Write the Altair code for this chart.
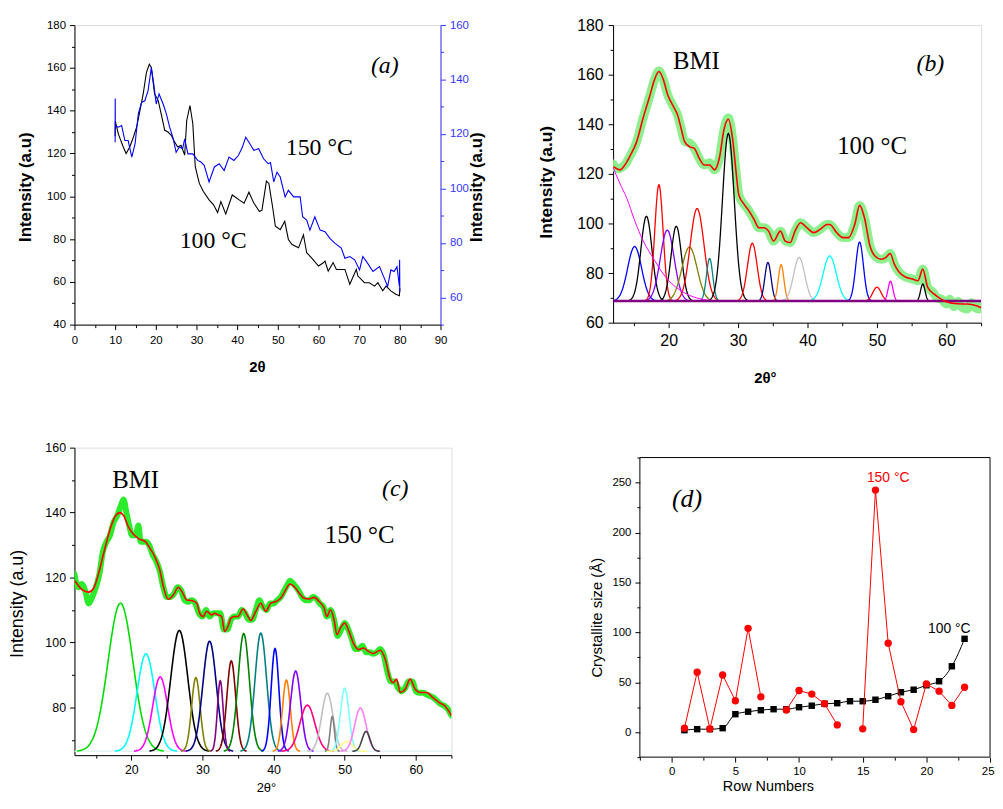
import altair as alt
import numpy as np
import pandas as pd

SANS = "Liberation Sans"
SERIF = "Liberation Serif"

# ---------------- (a) raw patterns ----------------
a_x_100 = [10, 10.05, 10.8, 12, 12.7, 13.6, 14.5, 15.3, 16.1, 16.9, 17.7, 18.4, 18.9, 19.7, 20.6, 21.4, 22.2, 23,
           23.8, 24.6, 25.4, 26.2, 27.1, 27.6, 28.4, 29.1, 29.7, 30.7, 31.7, 33.1, 34.2, 35.2, 36, 37.2, 38.8, 40.5,
           41.7, 42.9, 44.1, 45.5, 46.1, 47.2, 47.8, 48.7, 49.4, 50.6, 51.7, 52.6, 53.5, 55.1, 56.3, 57.1, 58.3, 60,
           61.2, 61.6, 62.4, 63.6, 64.4, 66.5, 67.7, 69.3, 69.7, 71.3, 72.5, 73.8, 74.6, 75.8, 76.6, 77.8, 79, 79.9, 80]
a_y_100 = [128, 135, 129, 123, 120, 123, 127.7, 132.4, 140, 147.8, 157.9, 161.7, 160.2, 147.8, 144.7, 137.8, 130.8,
           130, 128.5, 125.4, 123, 123.8, 119.2, 135.4, 142.4, 133.9, 113.8, 106, 102.2, 98.3, 96, 92.4, 97.5, 91.7,
           100.6, 98.3, 96.8, 101.9, 96.8, 92.9, 93.5, 107.1, 106, 95.2, 86, 84.4, 88.3, 79.8, 77.4, 75.9, 82, 73.6,
           71.2, 67.4, 68.9, 69.7, 65, 69, 65.8, 65.8, 58.9, 65.8, 62.7, 59.6, 59.6, 58, 59.6, 55.8, 58, 55.8, 54.2,
           53.5, 57]
a_x_150 = [10, 10.02, 10.05, 10.8, 11.6, 12.4, 13.2, 14.1, 14.9, 15.7, 16.5, 17.3, 18.1, 18.9, 19.5, 20.1, 20.8,
           21.8, 22.6, 23.4, 24.2, 25, 25.8, 26.6, 27.1, 27.9, 29.1, 30.3, 31.1, 31.9, 33.1, 34.4, 35.6, 36.8, 38,
           39.2, 40.3, 41.3, 42.1, 42.9, 44.1, 45.3, 46.5, 47.6, 48.2, 49, 49.8, 50.6, 51.8, 52.6, 53.9, 55.5, 56.1,
           57.1, 57.9, 59.1, 60.4, 61.6, 62.8, 64, 65.6, 66.5, 67.7, 68.9, 70.1, 70.9, 72.1, 73.4, 75, 76.2, 77, 77.8,
           78.6, 79.3, 79.9, 79.95, 80]
a_y_150 = [117, 133, 123, 122.5, 123.1, 117.6, 117.6, 111.5, 116.4, 127.4, 131.6, 132.2, 135.9, 144.4, 138.3, 131,
           134.7, 131, 127.4, 122.5, 118.8, 113.3, 115.2, 114.6, 118.2, 112.7, 112.7, 110.3, 109.7, 108.5, 102.4,
           107.9, 109.1, 106.6, 111.5, 110.3, 112.1, 115.2, 118.8, 117, 114, 114.6, 110.9, 109.1, 109.5, 102.4, 106,
           104.2, 96.9, 99.3, 96.9, 96.9, 89.6, 88.4, 84.7, 89.6, 84.7, 84.1, 81.7, 79.9, 78.1, 74.4, 75, 73.8, 70.1,
           75, 72.5, 69.5, 71.3, 67, 64, 70.1, 69.5, 71.3, 64, 73.8, 62]

# ---------------- (b) 100 °C deconvolution ----------------
b_x_data = [12, 12.6, 13.2, 13.8, 14.4, 15.4, 16.3, 17.3, 18, 18.6, 19.2, 19.9, 20.6, 21.3, 21.8, 22.3, 23, 23.7,
            24.4, 25.1, 25.9, 26.6, 27.3, 28, 28.6, 29.2, 29.7, 30.1, 30.9, 31.6, 32.3, 33, 33.7, 34.4, 35.1, 36.1,
            36.8, 37.5, 38.2, 39, 39.9, 40.9, 41.8, 42.8, 43.2, 44.2, 45.1, 45.9, 46.8, 47.5, 48.2, 49, 49.7, 50.6,
            51.3, 51.9, 52.5, 53.2, 54.2, 55.1, 55.9, 56.6, 57.3, 58, 58.7, 59.3, 60, 60.5, 61.1, 61.7, 62.3, 63,
            63.6, 64.2, 64.7, 65]
b_y_data = [124, 122, 122.5, 124, 127, 133, 142.3, 151.6, 158.3, 161.5, 158.3, 151.6, 147.6, 143.6, 138.3, 133,
            132.5, 130.3, 126.3, 123.6, 124.5, 121.6, 126.3, 138.3, 142.5, 134.3, 121, 111.6, 107.6, 104.9, 101.6,
            98.3, 98.3, 96.9, 92.9, 96.9, 92.9, 92.3, 96.9, 100.3, 98.3, 96.3, 97.6, 99.6, 99.6, 96.3, 94.3, 94.3,
            99.6, 107.3, 102.3, 90.9, 86.9, 85.6, 86.3, 87.9, 83.6, 80.3, 78.3, 77.6, 76.9, 81.6, 74.3, 72.5, 70,
            69.5, 67.5, 69.5, 66.5, 68.5, 66, 65.5, 68, 66, 65.5, 67]
b_x_fit = [12.05, 13, 13.7, 14.4, 15.4, 16.3, 17.3, 18, 18.6, 19.2, 19.9, 20.6, 21.3, 21.8, 22.3, 23, 23.7, 24.4,
           25.1, 25.9, 26.6, 27.3, 28, 28.6, 29.2, 29.7, 30.1, 30.9, 31.6, 32.3, 33, 33.7, 34.4, 35.1, 36.1, 36.8,
           37.5, 38.2, 39, 39.9, 40.9, 41.8, 42.8, 43.2, 44.2, 45.1, 45.9, 46.8, 47.5, 48.2, 49, 49.7, 50.6, 51.3,
           51.9, 52.5, 53.2, 54.2, 55.1, 55.9, 56.6, 57.3, 58.2, 59.2, 60.1, 61.6, 63, 64.2, 65]
b_y_fit = [122.9, 121.6, 123.6, 127, 133, 142.3, 151.6, 158.3, 161.3, 158.3, 151.6, 147.6, 143.6, 138.3, 133, 131,
           130.3, 126.3, 123.6, 123.6, 121.6, 126.3, 138.3, 142, 134.3, 121, 111.6, 107.6, 104.9, 101.6, 98.3, 98.3,
           96.9, 92.9, 96.9, 92.9, 92.3, 96.9, 100.3, 98.3, 96.3, 97.6, 99.6, 99.6, 96.3, 94.3, 94.3, 99.6, 107.3,
           102.3, 90.9, 86.9, 85.6, 86.3, 87.9, 83.6, 80.3, 78.3, 77.6, 76.9, 81.6, 74.3, 71.6, 69.6, 68.3, 67.6,
           67.5, 66.9, 66]
b_bg_x = [12, 13, 14, 15, 16, 17, 18, 19, 20, 22, 24, 26, 28]
b_bg_y = [122.5, 116, 110, 102, 95, 89.5, 85, 80.5, 77, 72.5, 70, 69, 68.7]
b_base = 68.7
b_centers = [15.1, 16.8, 18.6, 19.8, 21.1, 23.0, 24.1, 25.9, 28.6, 32.05, 34.3, 36.2, 38.8, 43.2, 47.5, 50.0, 51.95, 56.6]
b_tops = [90.7, 102.9, 115.6, 97.3, 98.9, 90.5, 106.0, 85.9, 136.3, 92.0, 84.3, 83.3, 86.3, 86.9, 92.5, 74.3, 76.7, 75.6]
b_sigmas = [1.0, 0.8, 0.6, 1.0, 0.75, 1.1, 1.0, 0.45, 0.85, 0.7, 0.45, 0.4, 0.8, 0.95, 0.55, 0.6, 0.35, 0.32]
b_colors = ["#0000FF", "#000000", "#FF0000", "#8000FF", "#000000", "#808000", "#FF0000", "#008080", "#000000",
            "#FF0000", "#000080", "#FF8000", "#C0C0C0", "#00FFFF", "#0000FF", "#FF0000", "#FF00FF", "#000000"]

# ---------------- (c) 150 °C deconvolution ----------------
c_x_data = [12, 12.5, 13, 13.5, 14, 14.5, 15, 15.5, 16, 16.5, 17, 17.5, 18, 18.5, 18.9, 19.3, 19.7, 20.1, 20.6, 21,
            21.3, 22, 22.5, 23, 23.5, 24, 24.5, 25, 25.5, 26, 26.5, 27, 27.5, 28, 28.5, 29, 29.5, 30, 30.5, 31, 31.5,
            32, 32.5, 33, 33.5, 34, 34.5, 35, 35.5, 36, 36.5, 37, 37.5, 38, 38.5, 39, 39.5, 40, 40.5, 41, 41.5, 42,
            42.3, 42.8, 43.5, 44, 44.5, 45, 45.5, 46, 46.5, 47, 47.5, 48, 48.5, 49, 49.5, 50, 50.5, 51, 51.5, 52,
            52.5, 53, 53.5, 54, 54.5, 55, 55.5, 56, 56.5, 57, 57.5, 58, 58.5, 59, 59.5, 60, 60.5, 61, 61.5, 62, 62.5,
            63, 63.5, 64, 64.5, 65]
c_y_data = [121, 117, 118, 116, 112, 114, 117, 121, 128, 131, 133, 137, 139, 142, 144, 140, 136, 133, 133, 136, 131,
            131, 130, 127, 125, 122, 117, 114, 114, 115, 117, 116, 113, 112.5, 113, 112, 109, 108, 110, 108, 109, 109,
            109, 104, 104, 107, 108, 108, 110, 109, 107, 107, 110, 113, 111, 110, 112, 112, 113, 114, 116, 118, 119,
            118, 116, 114, 113, 113, 114, 113.5, 112, 111, 108, 110, 107, 102, 104, 106, 104, 101, 98, 98, 99, 97,
            97, 96.5, 97, 98, 96, 91, 88, 88, 86, 85, 86, 88, 88, 85, 84.5, 84.5, 84, 83.5, 83, 82, 81, 80.5, 79.5,
            77.5]
c_x_fit = [12.05, 13.1, 14, 14.7, 15.4, 16.1, 17.1, 17.8, 18.4, 18.9, 19.6, 20.3, 21, 22, 22.65, 23.3, 24, 24.5,
           25.2, 25.9, 26.6, 27.1, 27.8, 28.5, 29.2, 29.6, 30.1, 30.6, 31.3, 31.7, 32.2, 32.7, 33.1, 33.6, 34, 34.5,
           35, 35.7, 36.4, 36.8, 37.5, 38.2, 38.9, 39.6, 40.3, 41, 41.7, 42.3, 42.9, 43.6, 44.3, 45, 45.7, 46.4, 47.1,
           47.5, 48, 48.5, 48.9, 49.4, 50, 50.6, 51.3, 51.95, 52.65, 53.3, 54, 55, 55.7, 56.4, 56.8, 57.3, 57.8, 58.5,
           59.2, 59.9, 60.6, 61.5, 62.4, 63.3, 64.05, 64.6, 65]
c_y_fit = [119, 116.2, 115.5, 116.7, 121.3, 127.4, 135.5, 139.1, 140, 139.1, 135.5, 133.3, 132, 131, 128.9, 126.4,
           122.3, 117.2, 113.3, 114.6, 117, 115.7, 113.1, 112.9, 112.1, 109, 108, 109.6, 108.5, 109, 108.5, 108,
           103.4, 105, 107.5, 108, 108, 110.3, 108, 106.8, 109.6, 112.1, 109.6, 112.1, 112.6, 113.6, 116.2, 118,
           117.2, 115.2, 113.6, 113.4, 113.9, 112.6, 110.6, 108, 110.1, 107, 102.4, 104.5, 106, 103.4, 99.4, 97.8,
           98.3, 97.3, 96.6, 97.6, 94.8, 88.7, 87.6, 88.7, 84.6, 85.6, 88.7, 85.6, 84.6, 84.6, 83, 81.5, 80.5, 79,
           77.5]
c_base = 66.5
c_centers = [18.47, 22.05, 24.05, 26.74, 29.07, 31.0, 32.5, 34.05, 35.8, 38.2, 40.2, 41.8, 43.1, 44.75, 47.55,
             48.25, 50.0, 50.3, 52.2, 53.0]
c_tops = [112.1, 96.5, 89.4, 103.7, 89.2, 100.4, 88.2, 94.3, 102.7, 102.9, 98.1, 88.4, 91.2, 80.7, 84.4, 77.2,
          85.9, 69.5, 79.8, 72.6]
c_sigmas = [1.75, 1.25, 1.05, 1.2, 0.6, 0.95, 0.4, 0.62, 0.8, 0.82, 0.55, 0.55, 0.72, 1.05, 0.8, 0.3, 0.6, 0.8,
            0.8, 0.55]
c_colors = ["#00DD00", "#00FFFF", "#FF00FF", "#000000", "#808000", "#000080", "#800080", "#800000", "#008000",
            "#008080", "#0000FF", "#FF8000", "#8000FF", "#FF0080", "#C0C0C0", "#808080", "#80FFFF", "#FFFF80",
            "#FF80FF", "#404040"]

# ---------------- (d) crystallite size ----------------
d_rows_100 = list(range(1, 24))
d_size_100 = [2, 3, 3, 4, 18, 20.5, 22, 23, 23, 25, 26.5, 28.5, 29, 31, 31, 32.5, 36, 40, 42.5, 47, 51, 66, 93.5]
d_rows_150 = [1, 2, 3, 4, 5, 6, 7, 9, 10, 11, 12, 13, 15, 16, 17, 18, 19, 20, 21, 22, 23]
d_size_150 = [4, 60, 3.3, 57.3, 31.5, 104, 35.4, 22.2, 41.7, 38.1, 28.5, 7.3, 3.3, 242.4, 89, 30.5, 2.6, 48.3, 41.1,
              26.8, 45]
d_seg_150 = [1] * 7 + [2] * 5 + [3] * 9
d_frame = {"x0": [-2.5], "x1": [25], "y0": [-25], "y1": [275]}   # axis limits of panel (d)


def peaks_df(centers, tops, sigmas, colors, base):
    rows = []
    for i, (c, t, s, col) in enumerate(zip(centers, tops, sigmas, colors)):
        for xv in np.linspace(c - 3.5 * s, c + 3.5 * s, 71):
            rows.append({"x": float(xv), "y": float(base + (t - base) * np.exp(-0.5 * ((xv - c) / s) ** 2)),
                         "pid": i, "col": col})
    return pd.DataFrame(rows)


def axis(vals, mod, lsize, title, tfs, bold, tx, ty, angle, color="black", lpad=4, orient=None, **extra):
    kw = dict(values=vals,
              labelExpr=f"datum.value % {mod} === 0 ? datum.label : ''",
              tickSize={"condition": {"test": f"datum.value % {mod} === 0", "value": 5}, "value": 3},
              labelFont=SANS, labelFontSize=lsize, labelColor=color, tickColor=color, domainColor=color,
              grid=False, labelPadding=lpad, labelOverlap=False, labelFlush=False,
              title=title, titleFont=SANS, titleFontSize=tfs, titleFontWeight="bold" if bold else "normal",
              titleColor="black", titleX=tx, titleY=ty, titleAngle=angle, titleAlign="center",
              titleBaseline="middle")
    kw.update(extra)
    if orient:
        kw["orient"] = orient
    return alt.Axis(**kw)


def texts(items, X, Y, font, size, style="normal", color="black"):
    df = pd.DataFrame(items, columns=["t", "x", "y"])
    return alt.Chart(df).mark_text(font=font, fontSize=size, fontStyle=style, color=color, align="center",
                                   baseline="middle").encode(x=X, y=Y, text="t:N")


# ---------- panel (a) ----------
xa_s = alt.Scale(domain=[0, 90], nice=False)
ya_s = alt.Scale(domain=[40, 180], nice=False, zero=False)
ya2_s = alt.Scale(domain=[50, 160], nice=False, zero=False)
xa_ax = axis(list(range(0, 91, 5)), 10, 11.5, "2θ", 15, True, 184, 42, 0, lpad=5)
ya_ax = axis(list(range(40, 181, 10)), 20, 11.5, "Intensity (a.u)", 17, True, -49.5, 163, 270)
ya2_ax = axis(list(range(50, 161, 10)), 20, 11.5, "Intensity (a.u)", 17, True, 36, 163, 270,
              color="#3535FF", orient="right")
XA = alt.X("x:Q", scale=xa_s, axis=xa_ax)
YA = alt.Y("y:Q", scale=ya_s, axis=ya_ax)
YA2 = alt.Y("y:Q", scale=ya2_s, axis=ya2_ax)

a_black = alt.Chart(pd.DataFrame({"x": a_x_100, "y": a_y_100})).mark_line(
    color="black", strokeWidth=1.1, clip=True).encode(x=XA, y=YA)
a_txt = alt.layer(
    texts([["(a)", 76.3, 161]], XA, YA, SERIF, 24, "italic"),
    texts([["150 °C", 60.2, 122.5], ["100 °C", 34.1, 78.9]], XA, YA, SERIF, 24),
)
a_blue = alt.Chart(pd.DataFrame({"x": a_x_150, "y": a_y_150})).mark_line(
    color="#0000FF", strokeWidth=1.1, clip=True).encode(x=XA, y=YA2)
pa = alt.layer(alt.layer(a_black, a_txt), a_blue).resolve_scale(y="independent").properties(width=369, height=302)

# ---------- panel (b) ----------
xb_s = alt.Scale(domain=[12, 65], nice=False)
yb_s = alt.Scale(domain=[60, 180], nice=False, zero=False)
xb_ax = axis(list(range(15, 66, 5)), 10, 16, "2θ°", 15, True, 153, 55, 0, lpad=5)
yb_ax = axis(list(range(60, 181, 10)), 20, 16, "Intensity (a.u)", 17.5, True, -67, 158, 270, lpad=5)
XB = alt.X("x:Q", scale=xb_s, axis=xb_ax)
YB = alt.Y("y:Q", scale=yb_s, axis=yb_ax)
b_green = alt.Chart(pd.DataFrame({"x": b_x_data, "y": b_y_data})).mark_line(
    color="#8DF08D", strokeWidth=9, interpolate="monotone", clip=True, strokeCap="round").encode(x=XB, y=YB)
b_peaks = alt.Chart(peaks_df(b_centers, b_tops, b_sigmas, b_colors, b_base)).mark_line(
    strokeWidth=1.3, clip=True).encode(x=XB, y=YB, color=alt.Color("col:N", scale=None), detail="pid:N")
b_bg = alt.Chart(pd.DataFrame({"x": b_bg_x, "y": b_bg_y})).mark_line(
    color="#FF00FF", strokeWidth=1, interpolate="monotone", clip=True).encode(x=XB, y=YB)
b_baseline = alt.Chart(pd.DataFrame({"x": [12, 65], "y": [b_base, b_base]})).mark_line(
    color="#800080", strokeWidth=2.5, clip=True).encode(x=XB, y=YB)
b_red = alt.Chart(pd.DataFrame({"x": b_x_fit, "y": b_y_fit})).mark_line(
    color="#FF0000", strokeWidth=1.6, interpolate="monotone", clip=True).encode(x=XB, y=YB)
b_txt = alt.layer(
    texts([["BMI", 24, 165.6], ["100 °C", 49.3, 131.2]], XB, YB, SERIF, 25),
    texts([["(b)", 57.7, 164.4]], XB, YB, SERIF, 24, "italic"),
)
pb = alt.layer(b_green, b_peaks, b_bg, b_baseline, b_red, b_txt).properties(width=371, height=300)

# ---------- panel (c) ----------
xc_s = alt.Scale(domain=[12, 65], nice=False)
yc_s = alt.Scale(domain=[65.3, 160], nice=False, zero=False)
xc_ax = axis(list(range(15, 66, 5)), 10, 12.5, "2θ°", 13, False, 193, 33, 0, lpad=4)
yc_ax = axis(list(range(70, 161, 10)), 20, 12.5, "Intensity (a.u)", 18, False, -57.5, 157, 270)
XC = alt.X("x:Q", scale=xc_s, axis=xc_ax)
YC = alt.Y("y:Q", scale=yc_s, axis=yc_ax)
c_green = alt.Chart(pd.DataFrame({"x": c_x_data, "y": c_y_data})).mark_line(
    color="#2BEB2B", strokeWidth=6, interpolate="monotone", clip=True, strokeCap="round").encode(x=XC, y=YC)
c_baseline = alt.Chart(pd.DataFrame({"x": [12, 65], "y": [c_base, c_base]})).mark_line(
    color="#E2F4F4", strokeWidth=1.5, clip=True).encode(x=XC, y=YC)
c_peaks = alt.Chart(peaks_df(c_centers, c_tops, c_sigmas, c_colors, c_base)).mark_line(
    strokeWidth=1.6, clip=True).encode(x=XC, y=YC, color=alt.Color("col:N", scale=None), detail="pid:N")
c_red = alt.Chart(pd.DataFrame({"x": c_x_fit, "y": c_y_fit})).mark_line(
    color="#FF0000", strokeWidth=1.6, interpolate="monotone", clip=True).encode(x=XC, y=YC)
c_txt = alt.layer(
    texts([["BMI", 20.6, 149.9], ["150 °C", 52.1, 133.1]], XC, YC, SERIF, 25),
    texts([["(c)", 57.1, 147.2]], XC, YC, SERIF, 24, "italic"),
)
pc = alt.layer(c_green, c_baseline, c_peaks, c_red, c_txt).properties(width=380, height=310)

# ---------- panel (d) ----------
# the cell is 27 px wider and 10 px taller than the frame, so the frame sits where the reference puts it
D_PX_X = 353 / 27.5
D_PX_Y = 302 / 300
xd_s = alt.Scale(domain=[-2.5 - 27 / D_PX_X, 25], nice=False)
yd_s = alt.Scale(domain=[-25, 275 + 10 / D_PX_Y], nice=False, zero=False)
xd_ax = axis([-2.5 + 2.5 * i for i in range(12)], 5, 11.5, "Row Numbers", 14.5, False, 156, 30, 0, lpad=4,
             domain=False, labelFlush=True, labelFlushOffset=4)
yd_ax = axis(list(range(-25, 276, 25)), 50, 11.5, "Crystallite size (Å)", 15, False, -44, 171, 270,
             domain=False, offset=-27)
XD = alt.X("x:Q", scale=xd_s, axis=xd_ax)
YD = alt.Y("y:Q", scale=yd_s, axis=yd_ax)
d100 = pd.DataFrame({"x": d_rows_100, "y": d_size_100})
d150 = pd.DataFrame({"x": d_rows_150, "y": d_size_150, "seg": d_seg_150})
d_box = alt.Chart(pd.DataFrame(d_frame)).mark_rect(filled=False, stroke="black", strokeWidth=1).encode(
    x=alt.X("x0:Q", scale=xd_s, axis=xd_ax), x2="x1:Q", y=alt.Y("y0:Q", scale=yd_s, axis=yd_ax), y2="y1:Q")
d_l100 = alt.Chart(d100).mark_line(color="black", strokeWidth=1, interpolate="monotone").encode(x=XD, y=YD)
d_p100 = alt.Chart(d100).mark_point(shape="square", filled=True, size=42, color="black", opacity=1).encode(x=XD, y=YD)
d_l150 = alt.Chart(d150).mark_line(color="#FF0000", strokeWidth=1).encode(x=XD, y=YD, detail="seg:N")
d_p150 = alt.Chart(d150).mark_circle(size=55, color="#FF0000", opacity=1).encode(x=XD, y=YD)
d_txt = alt.layer(
    texts([["(d)", 1.2, 233]], XD, YD, SERIF, 26, "italic"),
    texts([["150 °C", 17, 255]], XD, YD, SANS, 14, color="#FF0000"),
    texts([["100 °C", 21.8, 103.6]], XD, YD, SANS, 14),
)
pd_ = alt.layer(d_box, d_l100, d_p100, d_l150, d_p150, d_txt).properties(
    width=380, height=312, view=alt.ViewBackground(stroke="transparent"))

chart = alt.concat(pa, pb, pc, pd_, columns=2, spacing={"row": 124, "column": 163}, bounds="flush").properties(
    padding={"left": 0, "top": 5, "right": 0, "bottom": 0}
).configure_view(stroke="black", strokeWidth=1).configure(font=SANS)

chart.save("out.html", embed_options={"renderer": "svg", "actions": False})
